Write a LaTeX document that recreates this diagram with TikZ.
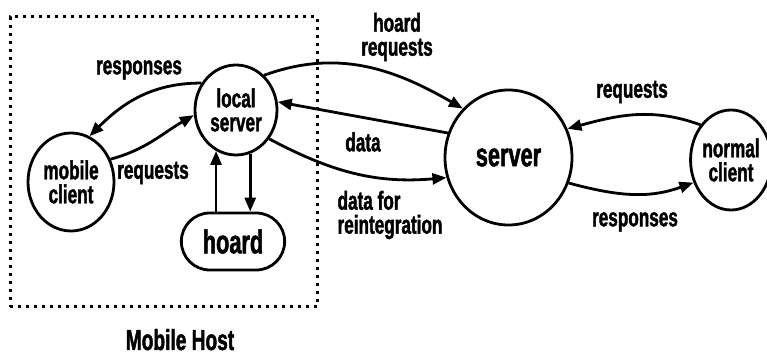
\documentclass[tikz,border=0pt]{standalone}
\usepackage{fontspec}
\setmainfont{Liberation Sans}[FakeStretch=0.66, BoldFeatures={FakeBold=1.5}]
\usepackage{tikz}
\usetikzlibrary{shapes,arrows.meta,positioning}

\newcommand{\smallfont}{\fontsize{26}{24}\selectfont\bfseries}
\newcommand{\bigfont}{\fontsize{33}{34}\selectfont\bfseries}

\begin{document}
\begin{tikzpicture}[
    x=1pt, y=1pt,
    circ/.style={ellipse, draw, line width=2.8pt, inner sep=0pt, align=center, font=\smallfont},
    lbl/.style={align=center, font=\smallfont, inner sep=0pt},
    arrow/.style={-{Triangle[length=14pt,width=11pt]}, line width=2.8pt}
]
\useasboundingbox (0,0) rectangle (767,355);

% Mobile host boundary
\node[draw, line width=3pt, dash pattern=on 3pt off 5pt, minimum width=307pt, minimum height=290pt, inner sep=0pt] (host) at (163.5,193) {};
\node[anchor=base, inner sep=0pt, font=\fontsize{29}{30}\selectfont\bfseries] (hostlbl) at (180,5) {Mobile Host};

% Nodes
\node[circ, minimum width=86pt, minimum height=98pt] (mobile) at (71,173) {mobile\\client};
\node[circ, minimum width=82pt, minimum height=90pt] (local) at (236,245) {local\\server};
\node[rounded rectangle, draw, line width=2.8pt, minimum width=110pt, minimum height=57pt, font=\bigfont] (hoard) at (233,113.5) {hoard};
\node[circ, minimum width=127pt, minimum height=135pt, font=\bigfont] (server) at (508.5,197.5) {server};
\node[circ, minimum width=76pt, minimum height=100pt] (normal) at (731,195) {normal\\client};

% Arrows inside the host
\draw[arrow] (local.142) to[out=180, in=45] (mobile.68);
\draw[arrow] (mobile.30) to[out=15, in=210] (local.187);
\draw[arrow] (local.244 |- hoard.north) -- (local.244);
\draw[arrow] (local.288) -- (local.288 |- hoard.north);

% Arrows between local server and server
\draw[arrow] (local.51) to[out=20, in=150] (server.133);
\draw[arrow] (server.158) -- (local.11);
\draw[arrow] (local.319) to[out=-28, in=185] (server.198);

% Arrows between server and normal client
\draw[arrow] (normal.131) to[out=160, in=15] (server.26);
\draw[arrow] (server.337) to[out=-15, in=200] (normal.211);

% Labels
\node[lbl] (resp1) at (139,285) {responses};
\node[lbl] (req1) at (153,182) {requests};
\node[lbl] (hreq) at (397,318) {hoard\\requests};
\node[lbl] (data) at (363,213) {data};
\node[lbl, align=left] (reint) at (390,140) {data for\\reintegration};
\node[lbl] (req2) at (632,263) {requests};
\node[lbl] (resp2) at (635,133) {responses};

\end{tikzpicture}
\end{document}
